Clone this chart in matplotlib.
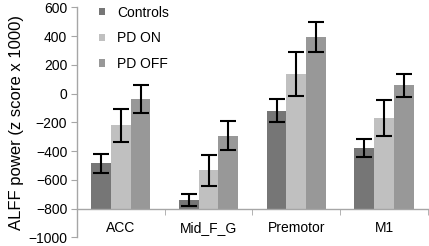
import numpy as np
import matplotlib.pyplot as plt

plt.rcParams['font.family'] = ['Liberation Sans', 'DejaVu Sans']

regions = ['ACC', 'Mid_F_G', 'Premotor', 'M1']
groups = ['Controls', 'PD ON', 'PD OFF']
means = {
    'Controls': [-486, -738, -119, -378],
    'PD ON': [-222, -534, 135, -168],
    'PD OFF': [-37, -294, 392, 58],
}
errs = {
    'Controls': [65, 41, 79, 60],
    'PD ON': [113, 106, 152, 126],
    'PD OFF': [95, 101, 104, 80],
}
colors = {'Controls': '#767676', 'PD ON': '#c0c0c0', 'PD OFF': '#989898'}
base = -800

fig = plt.figure(figsize=(4.29, 2.46), dpi=100)
ax = fig.add_axes([0.1795, 0.0354, 0.818, 0.9348])

x = np.arange(len(regions))
w = 0.225
for i, g in enumerate(groups):
    vals = np.array(means[g])
    ax.bar(x + (i - 1) * w, vals - base, w, bottom=base, color=colors[g], label=g, zorder=2)
    ax.errorbar(x + (i - 1) * w, vals, yerr=errs[g], fmt='none', ecolor='black',
                elinewidth=1.5, capsize=5.5, capthick=1.5, zorder=3)

ax.set_xlim(-0.5, 3.5)
ax.set_ylim(-1000, 600)
ax.set_yticks(np.arange(-1000, 601, 200))
ax.set_ylabel('ALFF power (z score x 1000)', fontsize=12, labelpad=3)

for s in ['top', 'right']:
    ax.spines[s].set_visible(False)
ax.spines['bottom'].set_position(('data', base))
for s in ['left', 'bottom']:
    ax.spines[s].set_color('#a6a6a6')
    ax.spines[s].set_linewidth(1.0)

ax.set_xticks(x)
ax.set_xticklabels(regions)
ax.set_xticks(np.arange(-0.5, 3.6, 1), minor=True)
ax.tick_params(axis='x', which='major', length=0, pad=9, labelsize=10)
ax.tick_params(axis='x', which='minor', length=4, color='#a6a6a6', direction='out')
ax.tick_params(axis='y', length=4, color='#a6a6a6', labelsize=10, pad=3)

ax.legend(loc='upper left', bbox_to_anchor=(0.218, 1.0), bbox_transform=fig.transFigure,
          frameon=False, fontsize=10, handlelength=0.45, handleheight=0.45,
          handletextpad=0.85, labelspacing=0.85, borderaxespad=0)

fig.savefig('out.png', dpi=100)
